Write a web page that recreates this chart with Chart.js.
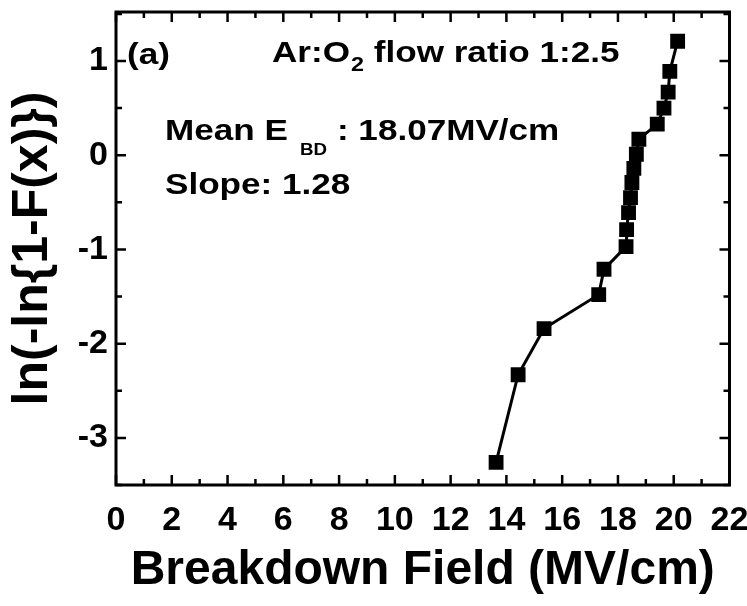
<!DOCTYPE html>
<html>
<head>
<meta charset="utf-8">
<script src="https://cdn.jsdelivr.net/npm/chart.js@4.4.1/dist/chart.umd.min.js"></script>
<style>
  html, body { margin: 0; padding: 0; background: #fff; }
  #wrap { width: 747px; height: 606px; }
</style>
</head>
<body>
<div id="wrap"><canvas id="c" width="747" height="606"></canvas></div>
<script>
// Weibull plot of breakdown field, Ar:O2 flow ratio 1:2.5
const fieldMVcm = [13.63, 14.42, 15.35, 17.31, 17.50, 18.29, 18.31, 18.38, 18.45, 18.50, 18.57, 18.66, 18.75, 19.41, 19.65, 19.80, 19.86, 20.14];
const weibullY  = [-3.26, -2.33, -1.84, -1.48, -1.21, -0.97, -0.79, -0.61, -0.45, -0.29, -0.14, 0.01, 0.17, 0.33, 0.50, 0.67, 0.89, 1.21];
const xTicks = [0, 2, 4, 6, 8, 10, 12, 14, 16, 18, 20, 22];
const yTicks = [-3, -2, -1, 0, 1];
const xRange = [0, 22];
const yRange = [-3.5, 1.52];

const FONT = "'Liberation Sans', Arial, Helvetica, sans-serif";

// frame on all four sides with inward major/minor ticks
const framePlugin = {
  id: 'frame',
  afterDraw(chart) {
    const { ctx, chartArea: a, scales } = chart;
    const xs = scales.x, ys = scales.y;
    ctx.save();
    ctx.strokeStyle = '#000';
    ctx.lineWidth = 3;
    ctx.lineCap = 'butt';
    ctx.strokeRect(a.left, a.top, a.right - a.left, a.bottom - a.top);
    ctx.lineWidth = 2.5;
    ctx.beginPath();
    for (let v = xRange[0]; v <= xRange[1]; v += 1) {
      const px = xs.getPixelForValue(v);
      const len = v % 2 === 0 ? 10 : 6;
      ctx.moveTo(px, a.bottom); ctx.lineTo(px, a.bottom - len);
      ctx.moveTo(px, a.top); ctx.lineTo(px, a.top + len);
    }
    for (let v = -3.5; v <= 1.5001; v += 0.5) {
      const py = ys.getPixelForValue(v);
      const len = Math.abs(v - Math.round(v)) < 1e-6 ? 10 : 6;
      ctx.moveTo(a.left, py); ctx.lineTo(a.left + len, py);
      ctx.moveTo(a.right, py); ctx.lineTo(a.right - len, py);
    }
    ctx.stroke();
    ctx.restore();
  }
};

// text labels inside the plot
function txt(ctx, s, x, y, size, sx) {
  ctx.save();
  ctx.font = 'bold ' + size + 'px ' + FONT;
  ctx.translate(x, y);
  ctx.scale(sx || 1, 1);
  ctx.fillText(s, 0, 0);
  const w = ctx.measureText(s).width * (sx || 1);
  ctx.restore();
  return x + w;
}
const notesPlugin = {
  id: 'notes',
  afterDraw(chart) {
    const ctx = chart.ctx;
    ctx.save();
    ctx.fillStyle = '#000';
    ctx.textBaseline = 'alphabetic';
    ctx.textAlign = 'left';
    const sx = 1.17;
    txt(ctx, '(a)', 127, 64, 30, sx);
    let x = txt(ctx, 'Ar:O', 272, 62, 30, sx);
    x = txt(ctx, '2', x + 1, 71, 20, sx);
    txt(ctx, ' flow ratio 1:2.5', x, 62, 30, sx);
    x = txt(ctx, 'Mean E', 165, 140, 30, sx);
    x = txt(ctx, 'BD', x + 12, 155, 16, sx);
    txt(ctx, ': 18.07MV/cm', x + 10, 140, 30, sx);
    txt(ctx, 'Slope: 1.28', 165, 194, 30, sx);
    ctx.restore();
  }
};

new Chart(document.getElementById('c'), {
  type: 'scatter',
  data: {
    datasets: [{
      data: fieldMVcm.map((v, i) => ({ x: v, y: weibullY[i] })),
      showLine: true,
      borderColor: '#000',
      borderWidth: 3,
      backgroundColor: '#000',
      pointStyle: 'rect',
      pointRadius: 10.5,
      pointHoverRadius: 10.5,
      pointBorderWidth: 0,
      tension: 0
    }]
  },
  options: {
    responsive: false,
    animation: false,
    events: [],
    layout: { padding: { top: 12, right: 17.5, left: 0, bottom: 0 } },
    plugins: { legend: { display: false }, tooltip: { enabled: false } },
    scales: {
      x: {
        type: 'linear',
        min: xRange[0], max: xRange[1],
        afterBuildTicks(s) { s.ticks = xTicks.map(v => ({ value: v })); },
        ticks: {
          color: '#000',
          font: { family: FONT, size: 34, weight: 'bold' },
          padding: 15,
          maxRotation: 0,
          autoSkip: false
        },
        grid: { display: false, drawTicks: false },
        border: { display: false },
        title: {
          display: true,
          text: 'Breakdown Field (MV/cm)',
          color: '#000',
          font: { family: FONT, size: 48, weight: 'bold' },
          padding: { top: 4, bottom: 6 }
        },
        afterFit(s) { s.height = 121; s.paddingLeft = 0; s.paddingRight = 0; }
      },
      y: {
        type: 'linear',
        min: yRange[0], max: yRange[1],
        afterBuildTicks(s) { s.ticks = yTicks.map(v => ({ value: v })); },
        ticks: {
          color: '#000',
          font: { family: FONT, size: 34, weight: 'bold' },
          padding: 8,
          autoSkip: false
        },
        grid: { display: false, drawTicks: false },
        border: { display: false },
        title: {
          display: true,
          text: 'ln(-ln{1-F(x)})',
          color: '#000',
          font: { family: FONT, size: 50, weight: 'bold' },
          padding: { top: 3, bottom: 4 }
        },
        afterFit(s) { s.width = 116; s.paddingTop = 0; s.paddingBottom = 0; }
      }
    }
  },
  plugins: [framePlugin, notesPlugin]
});
</script>
</body>
</html>
